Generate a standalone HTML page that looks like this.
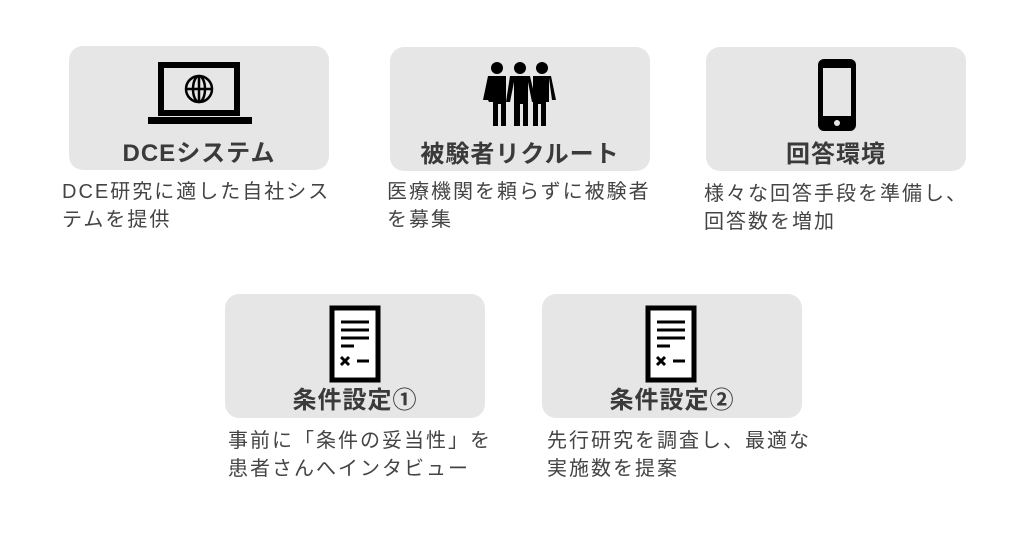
<!DOCTYPE html>
<html><head><meta charset="utf-8"><style>
body{margin:0;width:1024px;height:539px;background:#fff;position:relative;overflow:hidden;font-family:"Liberation Sans","Noto Sans CJK JP",sans-serif}
.box{position:absolute;width:260px;height:124px;background:#e6e6e6;border-radius:14px}
.t{position:absolute;width:260px;text-align:center;font-weight:bold;font-size:24px;color:#3a3a3a;letter-spacing:1px}
.d{position:absolute;font-size:20px;line-height:28px;color:#444;letter-spacing:2px;white-space:nowrap}
svg{position:absolute}
</style></head><body>
<div class="box" style="left:69px;top:46px"></div>
<div class="box" style="left:390px;top:47px"></div>
<div class="box" style="left:706px;top:47px"></div>
<div class="box" style="left:225px;top:294px"></div>
<div class="box" style="left:542px;top:294px"></div>

<!-- laptop -->
<svg style="left:145px;top:60px" width="110" height="70" viewBox="0 0 110 70">
<rect x="16" y="5" width="76" height="48" fill="none" stroke="#000" stroke-width="6"/>
<rect x="3" y="57" width="104" height="7" fill="#000"/>
<circle cx="54" cy="29" r="13" fill="none" stroke="#000" stroke-width="2.5"/>
<ellipse cx="54" cy="29" rx="6" ry="13" fill="none" stroke="#000" stroke-width="2.5"/>
<line x1="41" y1="29" x2="67" y2="29" stroke="#000" stroke-width="2.5"/>
<line x1="54" y1="16" x2="54" y2="42" stroke="#000" stroke-width="2.5"/>
</svg>
<!-- people -->
<svg style="left:480px;top:60px" width="80" height="70" viewBox="0 0 80 70">
<g fill="#000">
<circle cx="17" cy="8" r="6"/><circle cx="40" cy="8" r="6"/><circle cx="62" cy="8" r="6"/>
<path d="M8 16h18v50h-5V44h-3v22h-5V42H9l-2-4z M3 40l5-24h4l-3 24z"/>
<path d="M53 16h18l5 24h-4l-3-22v24h-3v24h-5V44h-3v22h-5z"/>
<path d="M30 16h20l6 26h-4l-4-20v44h-5V44h-3v22h-6V22l-4 20h-4z"/>
</g></svg>
<!-- phone -->
<svg style="left:816px;top:58px" width="42" height="75" viewBox="0 0 42 75">
<rect x="2" y="1" width="38" height="72" rx="6" fill="#000"/>
<rect x="7" y="10" width="28" height="48" fill="#e6e6e6"/>
<circle cx="21" cy="65" r="3" fill="#e6e6e6"/>
</svg>
<!-- docs -->
<svg style="left:327px;top:304px" width="56" height="80" viewBox="0 0 56 80">
<rect x="5" y="4" width="46" height="72" fill="#fff" stroke="#000" stroke-width="5"/>
<g stroke="#000" stroke-width="3"><line x1="14" y1="18" x2="42" y2="18"/><line x1="14" y1="26" x2="42" y2="26"/><line x1="14" y1="34" x2="42" y2="34"/><line x1="14" y1="42" x2="27" y2="42"/><line x1="30" y1="57" x2="42" y2="57"/><line x1="14" y1="53" x2="22" y2="61"/><line x1="22" y1="53" x2="14" y2="61"/></g>
</svg>
<svg style="left:643px;top:304px" width="56" height="80" viewBox="0 0 56 80">
<rect x="5" y="4" width="46" height="72" fill="#fff" stroke="#000" stroke-width="5"/>
<g stroke="#000" stroke-width="3"><line x1="14" y1="18" x2="42" y2="18"/><line x1="14" y1="26" x2="42" y2="26"/><line x1="14" y1="34" x2="42" y2="34"/><line x1="14" y1="42" x2="27" y2="42"/><line x1="30" y1="57" x2="42" y2="57"/><line x1="14" y1="53" x2="22" y2="61"/><line x1="22" y1="53" x2="14" y2="61"/></g>
</svg>

<div class="t" style="left:69px;top:133px">DCEシステム</div>
<div class="t" style="left:390px;top:134px">被験者リクルート</div>
<div class="t" style="left:706px;top:134px">回答環境</div>
<div class="t" style="left:225px;top:380px">条件設定①</div>
<div class="t" style="left:542px;top:380px">条件設定②</div>

<div class="d" style="left:62px;top:178px">DCE研究に適した自社シス<br>テムを提供</div>
<div class="d" style="left:387px;top:178px">医療機関を頼らずに被験者<br>を募集</div>
<div class="d" style="left:704px;top:180px">様々な回答手段を準備し、<br>回答数を増加</div>
<div class="d" style="left:228px;top:427px">事前に「条件の妥当性」を<br>患者さんへインタビュー</div>
<div class="d" style="left:547px;top:427px">先行研究を調査し、最適な<br>実施数を提案</div>
</body></html>
